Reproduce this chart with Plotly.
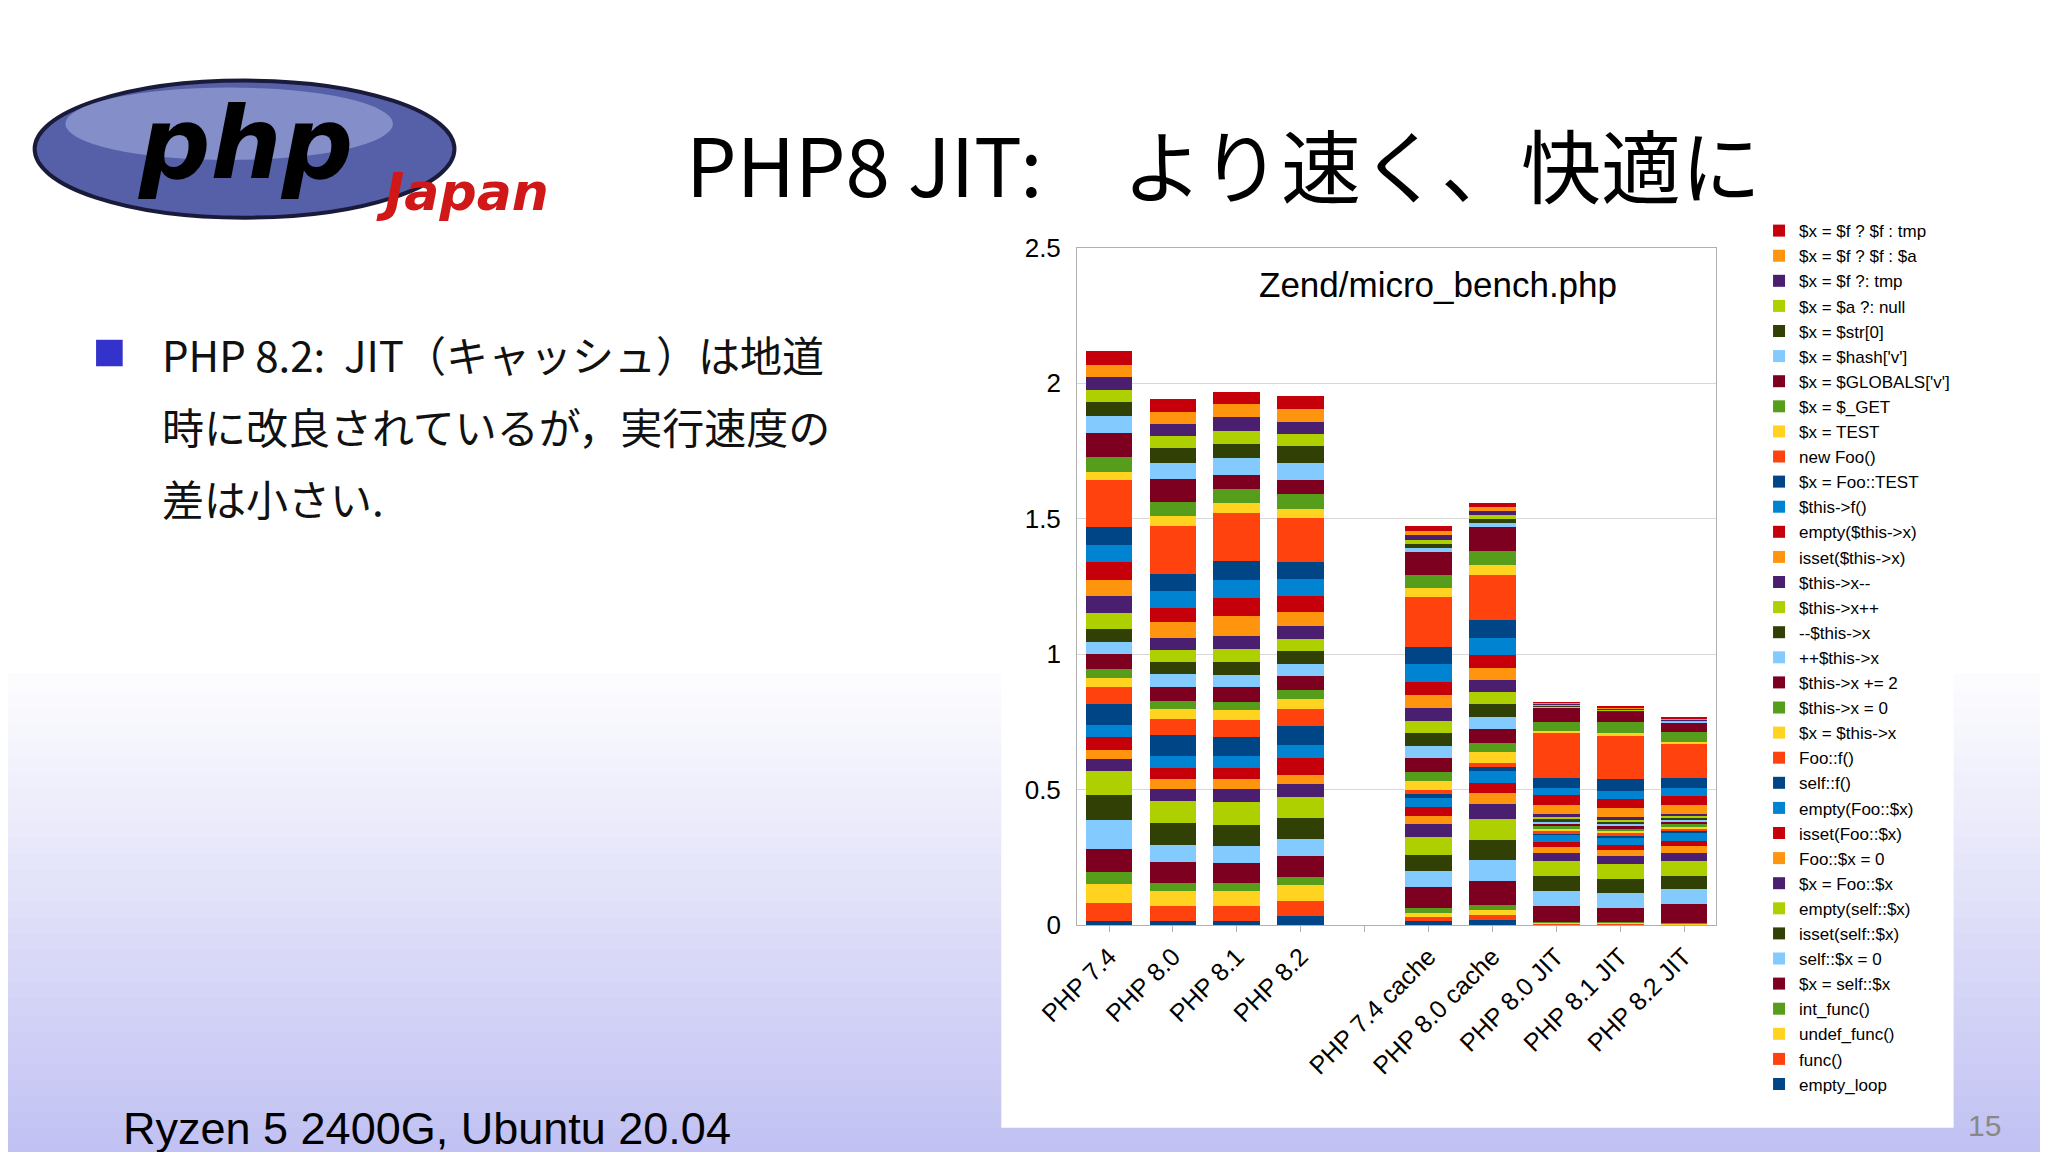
import plotly.graph_objs as go

# Benchmark names, bottom of the stack first
series = ['empty_loop', 'func()', 'undef_func()', 'int_func()', '$x = self::$x',
          'self::$x = 0', 'isset(self::$x)', 'empty(self::$x)', '$x = Foo::$x',
          'Foo::$x = 0', 'isset(Foo::$x)', 'empty(Foo::$x)', 'self::f()', 'Foo::f()',
          '$x = $this->x', '$this->x = 0', '$this->x += 2', '++$this->x', '--$this->x',
          '$this->x++', '$this->x--', 'isset($this->x)', 'empty($this->x)', '$this->f()',
          '$x = Foo::TEST', 'new Foo()', '$x = TEST', '$x = $_GET',
          "$x = $GLOBALS['v']", "$x = $hash['v']", '$x = $str[0]', '$x = $a ?: null',
          '$x = $f ?: tmp', '$x = $f ? $f : $a', '$x = $f ? $f : tmp']

categories = ['PHP 7.4', 'PHP 8.0', 'PHP 8.1', 'PHP 8.2', ' ',
              'PHP 7.4 cache', 'PHP 8.0 cache', 'PHP 8.0 JIT', 'PHP 8.1 JIT', 'PHP 8.2 JIT']

# seconds per benchmark, one list per bar (same order as series)
php74 = [.014, .068, .070, .044, .085, .106, .094, .087, .046, .032, .046, .046, .077, .063,
         .035, .032, .055, .046, .048, .058, .061, .059, .066, .065, .065, .173, .032, .054,
         .089, .063, .051, .046, .046, .046, .051]
php80 = [.014, .056, .055, .030, .077, .063, .080, .082, .046, .035, .041, .046, .075, .059,
         .038, .030, .052, .046, .045, .046, .045, .056, .054, .063, .063, .177, .034, .052,
         .086, .059, .055, .045, .044, .045, .049]
php81 = [.014, .056, .055, .030, .075, .063, .077, .085, .048, .034, .041, .046, .069, .065,
         .035, .031, .054, .045, .046, .049, .049, .073, .068, .066, .070, .177, .037, .052,
         .051, .063, .052, .046, .054, .046, .045]
php82 = [.035, .052, .061, .028, .077, .063, .080, .077, .046, .035, .063, .049, .070, .061,
         .038, .032, .052, .046, .045, .046, .046, .054, .058, .063, .063, .162, .034, .054,
         .052, .062, .063, .045, .045, .048, .048]
php74_cache = [.013, .017, .016, .016, .078, .061, .059, .064, .047, .033, .031, .034, .015,
               .015, .034, .032, .051, .045, .047, .045, .047, .049, .049, .064, .063, .186,
               .031, .051, .083, .015, .015, .016, .016, .016, .017]
php80_cache = [.018, .020, .017, .020, .088, .077, .072, .081, .054, .040, .037, .043, .015,
               .016, .040, .033, .051, .047, .045, .047, .045, .043, .047, .064, .065, .168,
               .034, .055, .086, .015, .015, .015, .015, .015, .015]
php80_jit = [.004, .003, .003, .002, .059, .055, .055, .055, .028, .025, .018, .027, .006,
             .006, .010, .009, .010, .006, .009, .009, .010, .033, .036, .029, .037, .163,
             .010, .033, .055, .004, .003, .003, .003, .003, .003]
php81_jit = [.004, .003, .002, .002, .053, .054, .053, .055, .027, .022, .022, .029, .006,
             .006, .008, .008, .010, .008, .008, .008, .010, .032, .034, .029, .047, .157,
             .010, .044, .037, .003, .003, .003, .003, .003, .003]
php82_jit = [.002, .002, .002, .002, .070, .055, .049, .053, .031, .025, .018, .034, .006,
             .006, .008, .008, .008, .008, .008, .008, .008, .032, .034, .028, .039, .123,
             .010, .037, .034, .003, .003, .003, .003, .003, .003]

bars = [php74, php80, php81, php82, None, php74_cache, php80_cache,
        php80_jit, php81_jit, php82_jit]

bullet_lines = ['PHP 8.2:  JIT（キャッシュ）は地道', '時に改良されているが，実行速度の', '差は小さい.']

# LibreOffice default chart palette
palette = ['#004586', '#FF420E', '#FFD320', '#579D1C', '#7E0021', '#83CAFF',
           '#314004', '#AECF00', '#4B1F6F', '#FF950E', '#C5000B', '#0084D1']

CJK = 'Noto Sans CJK JP'
SANS = 'Liberation Sans, Arial, sans-serif'

data = []
for i, name in enumerate(series):
    y = [b[i] if b is not None else None for b in bars]
    data.append(go.Bar(x=categories, y=y, name=name, legendgroup=name,
                       marker={'color': palette[i % 12], 'line': {'width': 0}}))

shapes = []
# lavender gradient at the bottom of the slide
n = 30
for k in range(n):
    t = k / n
    r = int(255 - 62 * (1 - t))
    g = int(255 - 62 * (1 - t))
    b = int(255 - 12 * (1 - t))
    shapes.append(dict(type='rect', xref='paper', yref='paper', x0=0, x1=1,
                       y0=0.42 * t, y1=0.42 * (t + 1 / n) + 0.002, line={'width': 0},
                       fillcolor='rgb(%d,%d,%d)' % (r, g, b), layer='below'))
shapes += [
    dict(type='rect', xref='paper', yref='paper', x0=0.485, x1=0.950, y0=0.028, y1=0.807,
         fillcolor='white', line={'width': 0}, layer='below'),
    dict(type='rect', xref='paper', yref='paper', x0=0.043, x1=0.056, y0=0.689, y1=0.712,
         fillcolor='#3333CC', line={'width': 0}),
    dict(type='circle', xref='paper', yref='paper', x0=0.013, x1=0.218, y0=0.818, y1=0.937,
         fillcolor='#5560A8', line={'color': '#1A1A3A', 'width': 4}),
    dict(type='circle', xref='paper', yref='paper', x0=0.028, x1=0.188, y0=0.868, y1=0.931,
         fillcolor='rgba(190,200,240,0.45)', line={'width': 0}),
]

def note(text, x, y, size, family, color='black', xa='center', ya='middle', **kw):
    return dict(text=text, x=x, y=y, xref='paper', yref='paper', xanchor=xa, yanchor=ya,
                showarrow=False, font={'family': family, 'size': size, 'color': color}, **kw)

annotations = [
    note('PHP8 JIT:　より速く、快適に', 0.330, 0.866, 80, CJK, xa='left'),
    note('<b><i>php</i></b>', 0.116, 0.882, 100, 'DejaVu Sans'),
    note('<b><i>Japan</i></b>', 0.222, 0.840, 52, 'DejaVu Sans', '#D01818'),
    note('Ryzen 5 2400G, Ubuntu 20.04', 0.055, 0.027, 45, SANS, xa='left'),
    note('15', 0.965, 0.030, 30, SANS, '#888888'),
    note('Zend/micro_bench.php', 0.698, 0.760, 35, SANS),
]
for j, line in enumerate(bullet_lines):
    annotations.append(note(line, 0.074, 0.700 - j * 0.0625, 42, CJK, '#111111', xa='left'))

layout = go.Layout(
    width=2048, height=1152, barmode='stack', bargap=0.27,
    margin={'l': 0, 'r': 0, 't': 0, 'b': 0, 'pad': 0},
    paper_bgcolor='white', plot_bgcolor='white',
    xaxis={'domain': [0.522, 0.834], 'tickangle': -45, 'showline': True, 'automargin': False,
           'linecolor': '#B0B0B0', 'mirror': True, 'ticks': 'outside', 'ticklen': 6,
           'tickcolor': '#B0B0B0', 'tickfont': {'family': SANS, 'size': 25, 'color': 'black'}},
    yaxis={'domain': [0.204, 0.792], 'range': [0, 2.5], 'dtick': 0.5, 'automargin': False,
           'showgrid': True, 'gridcolor': '#D8D8D8', 'showline': True,
           'linecolor': '#B0B0B0', 'mirror': True, 'zeroline': False, 'ticklabelstandoff': 10,
           'tickfont': {'family': SANS, 'size': 26, 'color': 'black'}},
    legend={'x': 0.855, 'y': 0.822, 'xanchor': 'left', 'yanchor': 'top',
            'traceorder': 'reversed', 'tracegroupgap': 15, 'bgcolor': 'rgba(0,0,0,0)',
            'font': {'family': SANS, 'size': 17, 'color': 'black'},
            'itemwidth': 30},
    shapes=shapes, annotations=annotations, showlegend=True,
)

fig = go.Figure(data=data, layout=layout)
fig.write_html('out.html')
